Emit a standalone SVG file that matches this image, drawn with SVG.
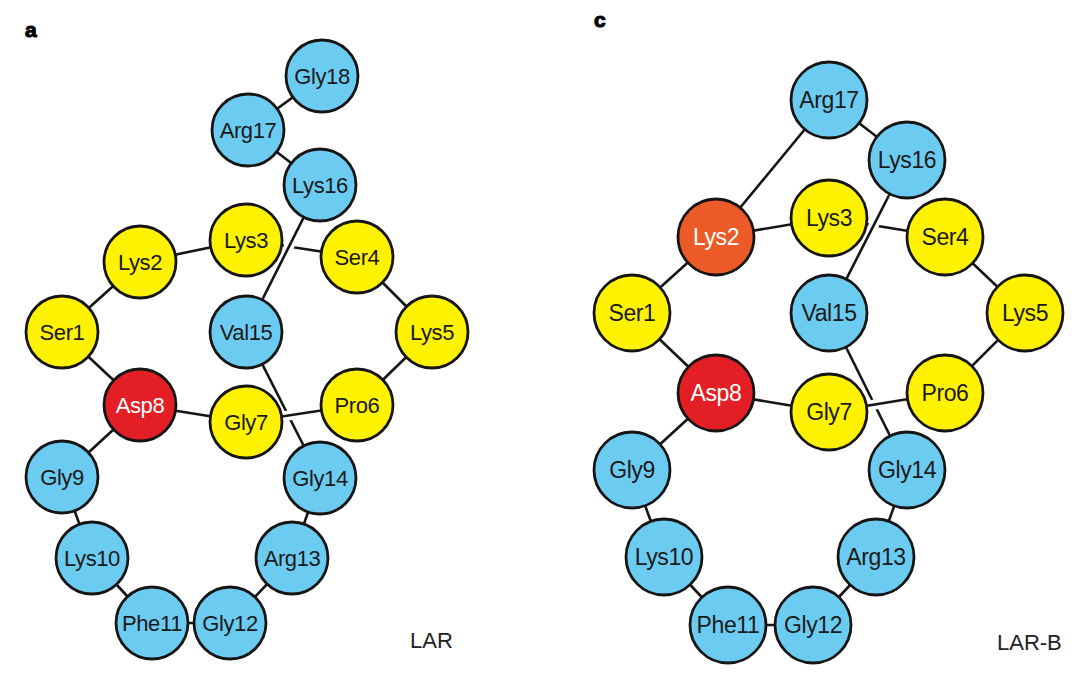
<svg xmlns="http://www.w3.org/2000/svg" width="1080" height="675" viewBox="0 0 1080 675">
<style>
.bg{fill:#ffffff}
.e{stroke:#151515;stroke-width:2.6;fill:none}
.h{stroke:#ffffff;stroke-width:10;fill:none}
circle{stroke:#151515;stroke-width:2.8}
.b{fill:#6CCBF1}
.y{fill:#FFF200}
.r{fill:#E41E25}
.o{fill:#EC5A27}
text{font-family:"Liberation Sans",Arial,Helvetica,sans-serif;text-anchor:middle;fill:#1a1a1a}
.na text{font-size:22px;letter-spacing:-0.4px}
.nc text{font-size:23px;letter-spacing:-0.4px}
text.w{fill:#ffffff}
.pl{font-size:21px;font-weight:bold;text-anchor:start;fill:#000;stroke:#000;stroke-width:1.1}
.cap{font-size:22px;text-anchor:start;fill:#222}
</style>
<rect class="bg" x="0" y="0" width="1080" height="675"/>
<text class="pl" x="25" y="37">a</text>
<text class="pl" x="594" y="27">c</text>
<text class="cap" x="410" y="648">LAR</text>
<text class="cap" x="997" y="650">LAR-B</text>

<g id="connectors-a">
<line class="e" x1="322" y1="76" x2="248" y2="130"/>
<line class="e" x1="248" y1="130" x2="320" y2="185"/>
<line class="e" x1="140" y1="262" x2="246" y2="240"/>
<line class="e" x1="246" y1="240" x2="357" y2="257"/>
<line class="e" x1="62" y1="332" x2="140" y2="262"/>
<line class="e" x1="357" y1="257" x2="432" y2="332"/>
<line class="e" x1="432" y1="332" x2="357" y2="405"/>
<line class="e" x1="62" y1="332" x2="140" y2="405"/>
<line class="e" x1="140" y1="405" x2="246" y2="422"/>
<line class="e" x1="140" y1="405" x2="62" y2="477"/>
<line class="e" x1="62" y1="477" x2="92" y2="558"/>
<line class="e" x1="92" y1="558" x2="152" y2="623"/>
<line class="e" x1="152" y1="623" x2="230" y2="623"/>
<line class="e" x1="230" y1="623" x2="292" y2="558"/>
<line class="e" x1="292" y1="558" x2="320" y2="478"/>
<line class="e" x1="320" y1="478" x2="246" y2="332"/>
<line class="h" x1="320" y1="185" x2="246" y2="332"/>
<line class="e" x1="320" y1="185" x2="246" y2="332"/>
<line class="h" x1="246" y1="422" x2="357" y2="405"/>
<line class="e" x1="246" y1="422" x2="357" y2="405"/>
</g>

<g id="connectors-c">
<line class="e" x1="829" y1="100" x2="907" y2="160"/>
<line class="e" x1="829" y1="100" x2="716" y2="237"/>
<line class="e" x1="716" y1="237" x2="829" y2="218"/>
<line class="e" x1="829" y1="218" x2="945" y2="237"/>
<line class="e" x1="716" y1="237" x2="632" y2="313"/>
<line class="e" x1="945" y1="237" x2="1025" y2="313"/>
<line class="e" x1="1025" y1="313" x2="945" y2="393"/>
<line class="e" x1="632" y1="313" x2="716" y2="393"/>
<line class="e" x1="716" y1="393" x2="829" y2="412"/>
<line class="e" x1="716" y1="393" x2="632" y2="470"/>
<line class="e" x1="632" y1="470" x2="664" y2="557"/>
<line class="e" x1="664" y1="557" x2="728" y2="625"/>
<line class="e" x1="728" y1="625" x2="813" y2="625"/>
<line class="e" x1="813" y1="625" x2="876" y2="557"/>
<line class="e" x1="876" y1="557" x2="907" y2="470"/>
<line class="e" x1="907" y1="470" x2="829" y2="313"/>
<line class="h" x1="907" y1="160" x2="829" y2="313"/>
<line class="e" x1="907" y1="160" x2="829" y2="313"/>
<line class="h" x1="829" y1="412" x2="945" y2="393"/>
<line class="e" x1="829" y1="412" x2="945" y2="393"/>
</g>

<g class="na">
<g id="a-Gly18"><circle class="b" cx="322" cy="76" r="36"/><text x="322" y="76" dy="0.35em">Gly18</text></g>
<g id="a-Arg17"><circle class="b" cx="248" cy="130" r="36"/><text x="248" y="130" dy="0.35em">Arg17</text></g>
<g id="a-Lys16"><circle class="b" cx="320" cy="185" r="36"/><text x="320" y="185" dy="0.35em">Lys16</text></g>
<g id="a-Lys3"><circle class="y" cx="246" cy="240" r="36"/><text x="246" y="240" dy="0.35em">Lys3</text></g>
<g id="a-Lys2"><circle class="y" cx="140" cy="262" r="36"/><text x="140" y="262" dy="0.35em">Lys2</text></g>
<g id="a-Ser4"><circle class="y" cx="357" cy="257" r="36"/><text x="357" y="257" dy="0.35em">Ser4</text></g>
<g id="a-Ser1"><circle class="y" cx="62" cy="332" r="36"/><text x="62" y="332" dy="0.35em">Ser1</text></g>
<g id="a-Val15"><circle class="b" cx="246" cy="332" r="36"/><text x="246" y="332" dy="0.35em">Val15</text></g>
<g id="a-Lys5"><circle class="y" cx="432" cy="332" r="36"/><text x="432" y="332" dy="0.35em">Lys5</text></g>
<g id="a-Asp8"><circle class="r" cx="140" cy="405" r="36"/><text class="w" x="140" y="405" dy="0.35em">Asp8</text></g>
<g id="a-Gly7"><circle class="y" cx="246" cy="422" r="36"/><text x="246" y="422" dy="0.35em">Gly7</text></g>
<g id="a-Pro6"><circle class="y" cx="357" cy="405" r="36"/><text x="357" y="405" dy="0.35em">Pro6</text></g>
<g id="a-Gly9"><circle class="b" cx="62" cy="477" r="36"/><text x="62" y="477" dy="0.35em">Gly9</text></g>
<g id="a-Gly14"><circle class="b" cx="320" cy="478" r="36"/><text x="320" y="478" dy="0.35em">Gly14</text></g>
<g id="a-Lys10"><circle class="b" cx="92" cy="558" r="36"/><text x="92" y="558" dy="0.35em">Lys10</text></g>
<g id="a-Arg13"><circle class="b" cx="292" cy="558" r="36"/><text x="292" y="558" dy="0.35em">Arg13</text></g>
<g id="a-Phe11"><circle class="b" cx="152" cy="623" r="36"/><text x="152" y="623" dy="0.35em">Phe11</text></g>
<g id="a-Gly12"><circle class="b" cx="230" cy="623" r="36"/><text x="230" y="623" dy="0.35em">Gly12</text></g>
</g>

<g class="nc">
<g id="c-Arg17"><circle class="b" cx="829" cy="100" r="38"/><text x="829" y="100" dy="0.35em">Arg17</text></g>
<g id="c-Lys16"><circle class="b" cx="907" cy="160" r="38"/><text x="907" y="160" dy="0.35em">Lys16</text></g>
<g id="c-Lys2"><circle class="o" cx="716" cy="237" r="38"/><text class="w" x="716" y="237" dy="0.35em">Lys2</text></g>
<g id="c-Lys3"><circle class="y" cx="829" cy="218" r="38"/><text x="829" y="218" dy="0.35em">Lys3</text></g>
<g id="c-Ser4"><circle class="y" cx="945" cy="237" r="38"/><text x="945" y="237" dy="0.35em">Ser4</text></g>
<g id="c-Ser1"><circle class="y" cx="632" cy="313" r="38"/><text x="632" y="313" dy="0.35em">Ser1</text></g>
<g id="c-Val15"><circle class="b" cx="829" cy="313" r="38"/><text x="829" y="313" dy="0.35em">Val15</text></g>
<g id="c-Lys5"><circle class="y" cx="1025" cy="313" r="38"/><text x="1025" y="313" dy="0.35em">Lys5</text></g>
<g id="c-Asp8"><circle class="r" cx="716" cy="393" r="38"/><text class="w" x="716" y="393" dy="0.35em">Asp8</text></g>
<g id="c-Gly7"><circle class="y" cx="829" cy="412" r="38"/><text x="829" y="412" dy="0.35em">Gly7</text></g>
<g id="c-Pro6"><circle class="y" cx="945" cy="393" r="38"/><text x="945" y="393" dy="0.35em">Pro6</text></g>
<g id="c-Gly9"><circle class="b" cx="632" cy="470" r="38"/><text x="632" y="470" dy="0.35em">Gly9</text></g>
<g id="c-Gly14"><circle class="b" cx="907" cy="470" r="38"/><text x="907" y="470" dy="0.35em">Gly14</text></g>
<g id="c-Lys10"><circle class="b" cx="664" cy="557" r="38"/><text x="664" y="557" dy="0.35em">Lys10</text></g>
<g id="c-Arg13"><circle class="b" cx="876" cy="557" r="38"/><text x="876" y="557" dy="0.35em">Arg13</text></g>
<g id="c-Phe11"><circle class="b" cx="728" cy="625" r="38"/><text x="728" y="625" dy="0.35em">Phe11</text></g>
<g id="c-Gly12"><circle class="b" cx="813" cy="625" r="38"/><text x="813" y="625" dy="0.35em">Gly12</text></g>
</g>
</svg>
